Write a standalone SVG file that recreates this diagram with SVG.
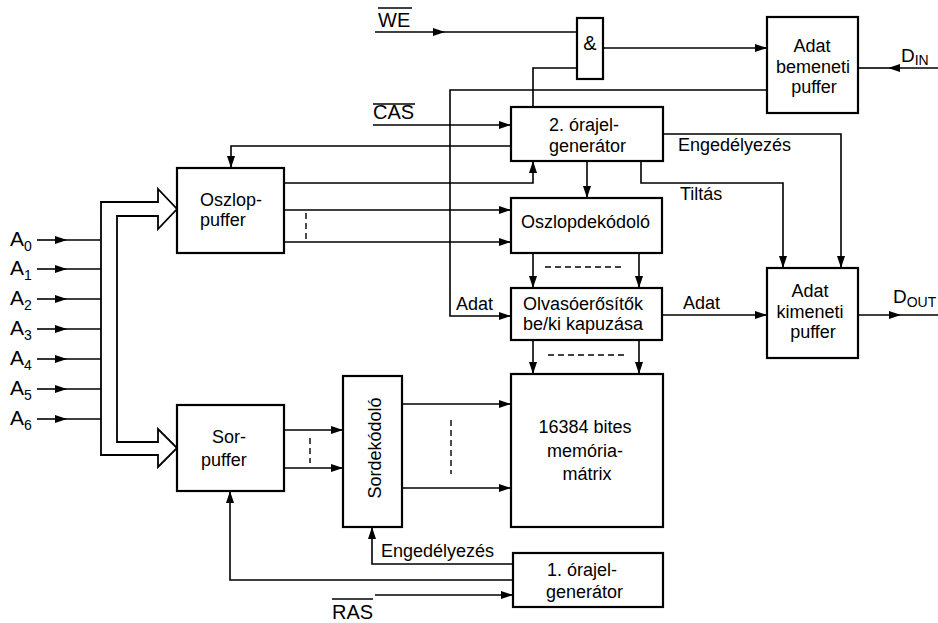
<svg xmlns="http://www.w3.org/2000/svg" width="938" height="623" viewBox="0 0 938 623">
<style>
.box{fill:#fff;stroke:#000;stroke-width:2.2}
.ln{fill:none;stroke:#000;stroke-width:1.6}
.ar{marker-end:url(#ah)}
.dash{fill:none;stroke:#000;stroke-width:1.4;stroke-dasharray:6,4}
.t{font-family:"Liberation Sans",Arial,sans-serif;font-size:18px;fill:#000}
.sig{font-family:"Liberation Sans",Arial,sans-serif;font-size:20px;fill:#000}
.sub{font-size:14px}
.c{text-anchor:middle}
</style>
<defs>
<marker id="ah" viewBox="0 0 12 8" refX="12" refY="4" markerWidth="12" markerHeight="8" markerUnits="userSpaceOnUse" orient="auto">
<path d="M0,0 L12,4 L0,8 z" fill="#000"/>
</marker>
</defs>

<g id="connectors">
<!-- address inputs -->
<g id="addr-inputs">
<line class="ln ar" x1="37" y1="240" x2="67" y2="240"/><line class="ln" x1="67" y1="240" x2="101" y2="240"/>
<line class="ln ar" x1="37" y1="269" x2="67" y2="269"/><line class="ln" x1="67" y1="269" x2="101" y2="269"/>
<line class="ln ar" x1="37" y1="299" x2="67" y2="299"/><line class="ln" x1="67" y1="299" x2="101" y2="299"/>
<line class="ln ar" x1="37" y1="329" x2="67" y2="329"/><line class="ln" x1="67" y1="329" x2="101" y2="329"/>
<line class="ln ar" x1="37" y1="359" x2="67" y2="359"/><line class="ln" x1="67" y1="359" x2="101" y2="359"/>
<line class="ln ar" x1="37" y1="389" x2="67" y2="389"/><line class="ln" x1="67" y1="389" x2="101" y2="389"/>
<line class="ln ar" x1="37" y1="419" x2="67" y2="419"/><line class="ln" x1="67" y1="419" x2="101" y2="419"/>
</g>
<!-- hollow bus arrows -->
<path d="M101,202 H158 V189 L177,209 L158,229 V216 H117 V442 H158 V429 L177,448 L158,467 V455 H101 Z" fill="#fff" stroke="#000" stroke-width="1.8" stroke-linejoin="miter"/>

<!-- Oszlop-puffer outputs -->
<path class="ln ar" d="M284,183 H533 V161"/>
<line class="ln ar" x1="284" y1="210" x2="511" y2="210"/>
<line class="ln ar" x1="284" y1="242" x2="511" y2="242"/>
<line class="dash" x1="306" y1="213" x2="306" y2="240"/>

<!-- generator to Oszlop-puffer -->
<path class="ln ar" d="M511,146 H231 V168"/>
<!-- CAS -->
<line class="ln ar" x1="373" y1="125" x2="511" y2="125"/>
<!-- WE -->
<line class="ln ar" x1="375" y1="32" x2="445" y2="32"/><line class="ln" x1="445" y1="32" x2="577" y2="32"/>
<!-- & output -->
<line class="ln ar" x1="603" y1="48" x2="767" y2="48"/>
<!-- generator to & -->
<path class="ln" d="M533,107 V68 H577"/>
<!-- Adat bemeneti to Olvaso -->
<path class="ln ar" d="M767,90 H450 V316 H511"/>
<!-- generator to Oszlopdekodolo -->
<line class="ln ar" x1="587" y1="161" x2="587" y2="198"/>
<!-- Tiltas -->
<path class="ln ar" d="M641,161 V183 H783 V268"/>
<!-- Engedelyezes upper -->
<path class="ln ar" d="M663,134 H841 V268"/>
<!-- Oszlopdekodolo to Olvaso -->
<line class="ln ar" x1="533" y1="253" x2="533" y2="288"/>
<line class="ln ar" x1="639" y1="253" x2="639" y2="288"/>
<line class="dash" x1="545" y1="267" x2="623" y2="267"/>
<!-- Olvaso to memory -->
<line class="ln ar" x1="533" y1="340" x2="533" y2="374"/>
<line class="ln ar" x1="639" y1="340" x2="639" y2="374"/>
<line class="dash" x1="548" y1="355" x2="626" y2="355"/>
<!-- Olvaso to Adat kimeneti -->
<line class="ln ar" x1="662" y1="315" x2="767" y2="315"/>
<!-- D_OUT -->
<line class="ln ar" x1="858" y1="315" x2="901" y2="315"/><line class="ln" x1="901" y1="315" x2="938" y2="315"/>
<!-- D_IN -->
<line class="ln ar" x1="938" y1="68" x2="888" y2="68"/><line class="ln" x1="888" y1="68" x2="858" y2="68"/>
<!-- Sor-puffer to Sordekodolo -->
<line class="ln ar" x1="284" y1="430" x2="343" y2="430"/>
<line class="ln ar" x1="284" y1="468" x2="343" y2="468"/>
<line class="dash" x1="310" y1="438" x2="310" y2="463"/>
<!-- Sordekodolo to memory -->
<line class="ln ar" x1="402" y1="404" x2="511" y2="404"/>
<line class="ln ar" x1="402" y1="488" x2="511" y2="488"/>
<line class="dash" x1="451" y1="420" x2="451" y2="474"/>
<!-- Engedelyezes lower -->
<path class="ln ar" d="M513,564 H372 V527"/>
<!-- 1. orajel to Sor-puffer -->
<path class="ln ar" d="M513,580 H230 V491"/>
<!-- RAS -->
<line class="ln ar" x1="375" y1="595" x2="513" y2="595"/>
</g>

<g id="signal-labels">
<text class="sig" x="10" y="246" style="font-size:21px">A<tspan class="sub" dy="5">0</tspan></text>
<text class="sig" x="10" y="275" style="font-size:21px">A<tspan class="sub" dy="5">1</tspan></text>
<text class="sig" x="10" y="305" style="font-size:21px">A<tspan class="sub" dy="5">2</tspan></text>
<text class="sig" x="10" y="335" style="font-size:21px">A<tspan class="sub" dy="5">3</tspan></text>
<text class="sig" x="10" y="365" style="font-size:21px">A<tspan class="sub" dy="5">4</tspan></text>
<text class="sig" x="10" y="395" style="font-size:21px">A<tspan class="sub" dy="5">5</tspan></text>
<text class="sig" x="10" y="425" style="font-size:21px">A<tspan class="sub" dy="5">6</tspan></text>
<text class="sig" x="378" y="27">WE</text>
<line class="ln" x1="378" y1="8" x2="412" y2="8"/>
<text class="sig" x="373" y="119">CAS</text>
<line class="ln" x1="373" y1="104" x2="415" y2="104"/>
<text class="sig" x="332" y="619">RAS</text>
<line class="ln" x1="332" y1="599" x2="373" y2="599"/>
<text class="sig" x="901" y="62" style="font-size:19px">D<tspan class="sub" dy="3">IN</tspan></text>
<text class="sig" x="893" y="303" style="font-size:19px">D<tspan class="sub" dy="4">OUT</tspan></text>
<text class="t" x="678" y="151">Engedélyezés</text>
<text class="t" x="680" y="200">Tiltás</text>
<text class="t" x="456" y="310">Adat</text>
<text class="t" x="683" y="309">Adat</text>
<text class="t" x="381" y="557">Engedélyezés</text>
</g>

<g id="oszlop-puffer">
<rect class="box" x="177" y="168" width="107" height="85"/>
<text class="t" x="200" y="206">Oszlop-</text>
<text class="t" x="200" y="226">puffer</text>
</g>
<g id="sor-puffer">
<rect class="box" x="177" y="405" width="107" height="86"/>
<text class="t" x="212" y="443">Sor-</text>
<text class="t" x="201" y="466">puffer</text>
</g>
<g id="and-gate">
<rect class="box" x="577" y="18" width="26" height="61"/>
<text class="sig c" x="590" y="50">&amp;</text>
</g>
<g id="orajel2">
<rect class="box" x="511" y="107" width="152" height="54"/>
<text class="t" x="549" y="131">2. órajel-</text>
<text class="t" x="549" y="152">generátor</text>
</g>
<g id="oszlopdekodolo">
<rect class="box" x="511" y="198" width="151" height="55"/>
<text class="t" x="521" y="228">Oszlopdekódoló</text>
</g>
<g id="olvasoerositok">
<rect class="box" x="511" y="288" width="151" height="52"/>
<text class="t" x="523" y="310">Olvasóerősítők</text>
<text class="t" x="523" y="330">be/ki kapuzása</text>
</g>
<g id="memoria">
<rect class="box" x="511" y="374" width="152" height="153"/>
<text class="t c" x="585" y="433">16384 bites</text>
<text class="t c" x="585" y="457">memória-</text>
<text class="t c" x="587" y="480">mátrix</text>
</g>
<g id="sordekodolo">
<rect class="box" x="343" y="376" width="59" height="151"/>
<text class="t c" transform="translate(381,448) rotate(-90)" x="0" y="0">Sordekódoló</text>
</g>
<g id="orajel1">
<rect class="box" x="513" y="553" width="150" height="54"/>
<text class="t" x="547" y="576">1. órajel-</text>
<text class="t" x="546" y="598">generátor</text>
</g>
<g id="adat-bemeneti">
<rect class="box" x="767" y="17" width="91" height="96"/>
<text class="t c" x="812" y="52">Adat</text>
<text class="t c" x="813" y="73">bemeneti</text>
<text class="t c" x="814" y="93">puffer</text>
</g>
<g id="adat-kimeneti">
<rect class="box" x="767" y="268" width="91" height="90"/>
<text class="t c" x="810" y="297">Adat</text>
<text class="t c" x="810" y="318">kimeneti</text>
<text class="t c" x="813" y="338">puffer</text>
</g>
</svg>
